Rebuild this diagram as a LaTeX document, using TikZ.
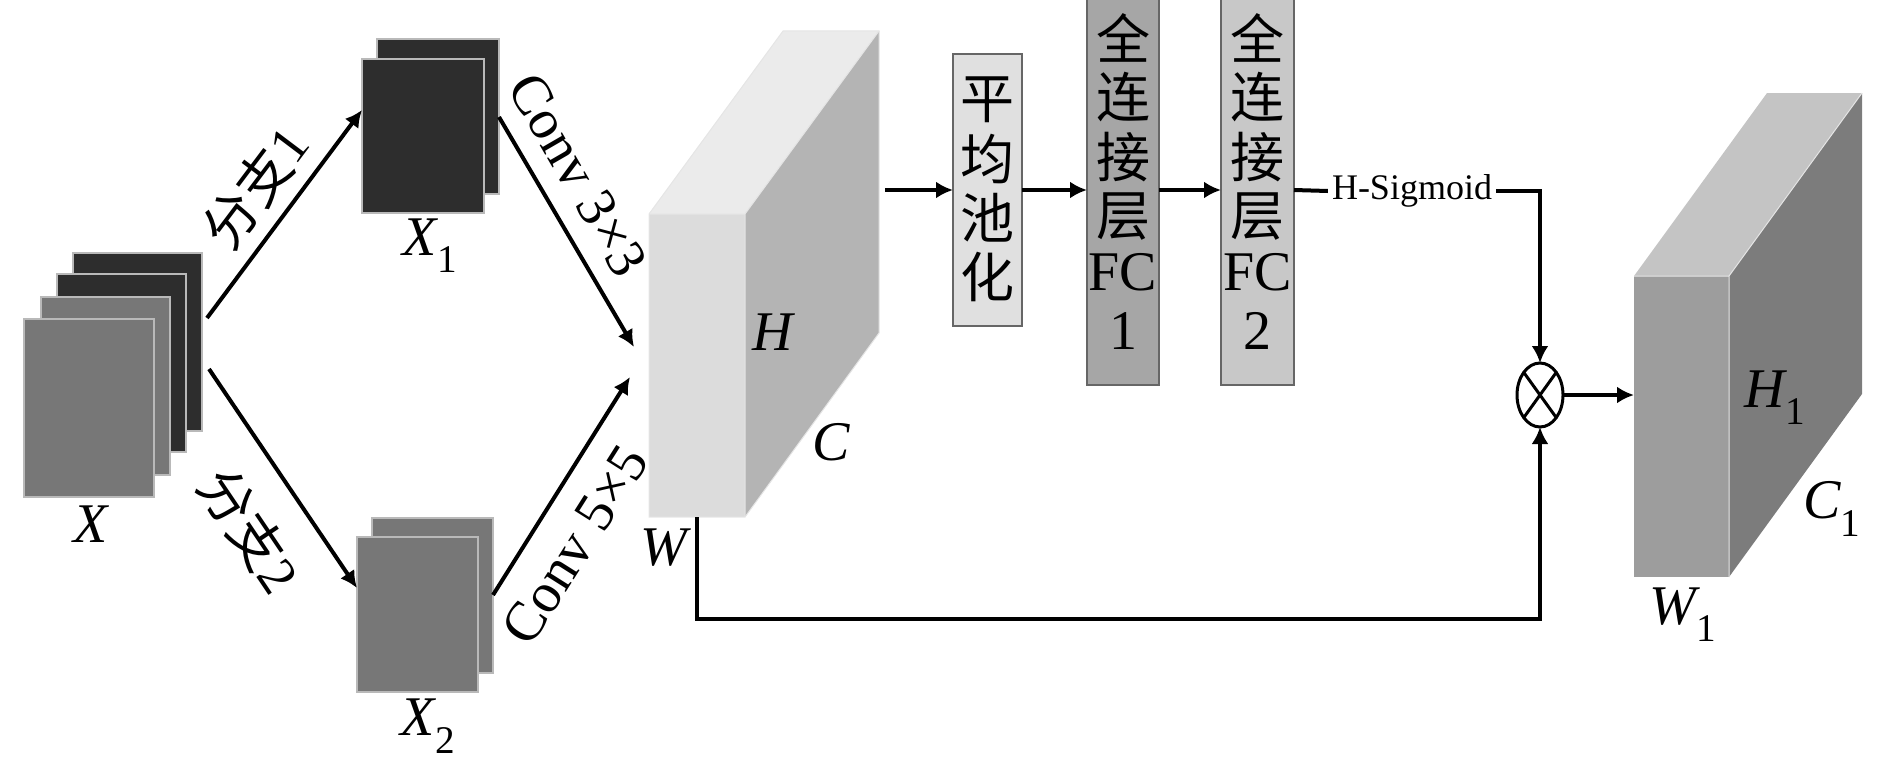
\documentclass[tikz,border=0pt]{standalone}
\usepackage{fontspec}
\setmainfont{Liberation Serif}
\newfontfamily\cjk{Noto Sans CJK SC}
\usetikzlibrary{arrows.meta,shapes.geometric}
\definecolor{dk}{HTML}{2D2D2D}
\definecolor{md}{HTML}{777777}
\definecolor{mfront}{HTML}{DCDCDC}
\definecolor{mtop}{HTML}{EBEBEB}
\definecolor{mside}{HTML}{B4B4B4}
\definecolor{rfront}{HTML}{9D9D9D}
\definecolor{rtop}{HTML}{C4C4C4}
\definecolor{rside}{HTML}{7C7C7C}
\definecolor{poolc}{HTML}{E0E0E0}
\definecolor{fcone}{HTML}{A6A6A6}
\definecolor{fctwo}{HTML}{C8C8C8}
\begin{document}
\begin{tikzpicture}[x=1pt,y=-1pt,
  arr/.style={line width=4pt,-{Latex[length=17pt,width=17pt]}},
  ln/.style={line width=4pt},
  sheet/.style={draw=gray!55,line width=1.2pt,inner sep=0pt,outer sep=0pt,anchor=north west},
  facebox/.style={inner sep=0pt,outer sep=0pt,anchor=north west},
  edge/.style={draw=white!80!gray,line width=1pt},
  lbl/.style={font=\fontsize{56}{60}\selectfont\itshape,inner sep=0pt},
  rlbl/.style={font=\fontsize{54}{58}\selectfont,inner sep=0pt},
  blk/.style={draw=gray!80!black,line width=1.2pt,inner sep=0pt,outer sep=0pt,anchor=north west},
  chr/.style={font=\fontsize{54}{58}\selectfont\cjk,inner sep=0pt},
  lat/.style={font=\fontsize{56}{60}\selectfont,inner sep=0pt}
]
\useasboundingbox (0,0) rectangle (1890,768);

% ---- X stack
\node[sheet,fill=dk,minimum width=129,minimum height=178] (xa) at (73,253) {};
\node[sheet,fill=dk,minimum width=129,minimum height=178] (xb) at (57,274) {};
\node[sheet,fill=md,minimum width=129,minimum height=178] (xc) at (41,297) {};
\node[sheet,fill=md,minimum width=130,minimum height=178] (xd) at (24,319) {};
\node[lbl] (xl) at (91,524) {X};

% ---- X1 stack
\node[sheet,fill=dk,minimum width=122,minimum height=155] (x1b) at (377,39) {};
\node[sheet,fill=dk,minimum width=122,minimum height=154] (x1f) at (362,59) {};
\node[lbl] (x1l) at (430,246) {X\textsubscript{\upshape 1}};

% ---- X2 stack
\node[sheet,fill=md,minimum width=121,minimum height=155] (x2b) at (372,518) {};
\node[sheet,fill=md,minimum width=121,minimum height=155] (x2f) at (357,537) {};
\node[lbl] (x2l) at (428,726) {X\textsubscript{\upshape 2}};

% ---- main block
\node[facebox,fill=mfront,minimum width=96,minimum height=303] (mf) at (649,214) {};
\coordinate (mtl) at (783,31);
\coordinate (mtr) at (879,31);
\coordinate (mbr) at (879,333);
\fill[mtop] (mf.north west) -- (mtl) -- (mtr) -- (mf.north east) -- cycle;
\fill[mside] (mf.north east) -- (mtr) -- (mbr) -- (mf.south east) -- cycle;
\draw[edge] (mf.north west) -- (mtl) -- (mtr) -- (mbr) -- (mf.south east) -- (mf.south west) -- cycle;
\draw[edge] (mf.north west) -- (mf.north east) -- (mtr) (mf.north east) -- (mf.south east);
\node[lbl] (hl) at (773,332) {H};
\node[lbl] (cl) at (831,442) {C};
\node[lbl] (wl) at (664,548) {W};

% ---- branch arrows
\coordinate (s1) at (207,318);
\coordinate (e1) at (362,110);
\coordinate (s2) at (209,369);
\coordinate (e2) at (357,588);
\coordinate (c3s) at (499,117);
\coordinate (c3e) at (634,347);
\coordinate (c5s) at (493,595);
\coordinate (c5e) at (630,377);
\draw[arr] (s1) -- (e1);
\draw[arr] (s2) -- (e2);
\draw[arr] (c3s) -- (c3e);
\draw[arr] (c5s) -- (c5e);
\node[rlbl,rotate=53] (b1) at (255,187) {{\cjk 分支}1};
\node[rlbl,rotate=-56] (b2) at (250,530) {{\cjk 分支}2};
\node[lat,rotate=-60] (cv3) at (578,175) {Conv 3×3};
\node[lat,rotate=57.7] (cv5) at (575,545) {Conv 5×5};

% ---- pooling and FC
\node[blk,fill=poolc,minimum width=69,minimum height=272] (pool) at (953,54) {};
\node[chr] at (987.5,100) {平};
\node[chr] at (987.5,159) {均};
\node[chr] at (987.5,218) {池};
\node[chr] at (987.5,277) {化};

\node[blk,fill=fcone,minimum width=72,minimum height=390] (fc1) at (1087,-5) {};
\node[chr] at (1123,38) {全};
\node[chr] at (1123,97) {连};
\node[chr] at (1123,157) {接};
\node[chr] at (1123,217) {层};
\node[lat] at (1123,272) {FC};
\node[lat] at (1123,331) {1};

\node[blk,fill=fctwo,minimum width=73,minimum height=390] (fc2) at (1221,-5) {};
\node[chr] at (1257.5,38) {全};
\node[chr] at (1257.5,97) {连};
\node[chr] at (1257.5,157) {接};
\node[chr] at (1257.5,217) {层};
\node[lat] at (1257.5,272) {FC};
\node[lat] at (1257.5,331) {2};

\coordinate (mo) at (885,190);
\draw[arr] (mo) -- (pool.west);
\draw[arr] (pool.east) -- (fc1.west);
\draw[arr] (fc1.east) -- (fc2.west);

\node[font=\fontsize{36}{40}\selectfont,inner sep=4pt] (hs) at (1412,191) {H-Sigmoid};

% ---- multiply
\node[draw,ellipse,line width=3pt,minimum width=46,minimum height=64,inner sep=0pt,outer sep=0pt] (mul) at (1540,395) {};
\draw[line width=3pt] (mul.north east) -- (mul.south west) (mul.north west) -- (mul.south east);

\draw[ln] (fc2.east) -- (hs.west);
\draw[arr] (hs.east) -| (mul.north);
\draw[arr] (mf.south) -- ++(0,102) -| (mul.south);

% ---- output block
\node[facebox,fill=rfront,minimum width=95,minimum height=301] (rf) at (1634,276) {};
\coordinate (rtl) at (1767,93);
\coordinate (rtr) at (1862,93);
\coordinate (rbr) at (1862,394);
\fill[rtop] (rf.north west) -- (rtl) -- (rtr) -- (rf.north east) -- cycle;
\fill[rside] (rf.north east) -- (rtr) -- (rbr) -- (rf.south east) -- cycle;
\draw[edge] (rf.north west) -- (rf.north east) -- (rtr) (rf.north east) -- (rf.south east);
\node[lbl] (h1l) at (1775,398) {H\textsubscript{\upshape 1}};
\node[lbl] (c1l) at (1832,509) {C\textsubscript{\upshape 1}};
\node[lbl] (w1l) at (1683,615) {W\textsubscript{\upshape 1}};

\draw[arr] (mul.east) -- (rf.west |- mul.east);
\end{tikzpicture}
\end{document}
